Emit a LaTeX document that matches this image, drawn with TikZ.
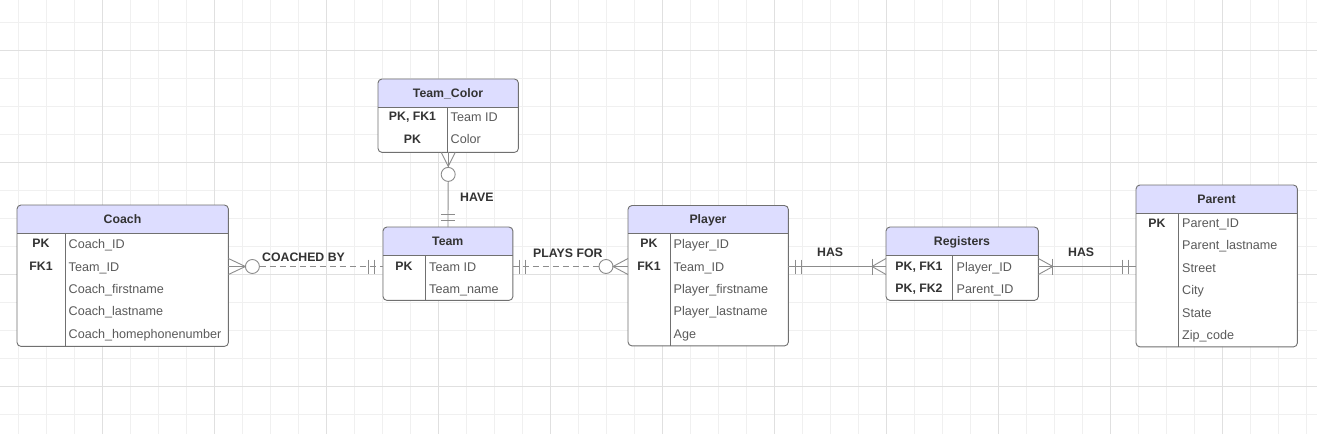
\documentclass[tikz,border=0pt]{standalone}
\usepackage{fontspec}
\setmainfont{Liberation Sans}
\usepackage{tikz}
\usetikzlibrary{calc}

\definecolor{hdrfill}{RGB}{221,221,255}
\definecolor{boxgray}{RGB}{112,112,112}
\definecolor{relgray}{RGB}{140,140,140}
\definecolor{darktext}{RGB}{51,51,51}
\definecolor{fldgray}{RGB}{90,90,90}
\definecolor{minorgrid}{RGB}{240,240,240}
\definecolor{majorgrid}{RGB}{224,224,224}

\tikzset{
  entity/.style={rectangle, rounded corners=4pt, fill=white, inner sep=0pt, anchor=north west},
  boxline/.style={draw=boxgray, line width=0.9pt, rounded corners=4pt},
  divline/.style={draw=boxgray, line width=0.9pt},
  hdrtext/.style={font=\fontsize{12.3}{14}\selectfont\bfseries, text=darktext, inner sep=0pt, text height=8.8pt, text depth=0pt},
  keytext/.style={font=\fontsize{12.3}{14}\selectfont\bfseries, text=darktext, inner sep=0pt, text height=8.8pt, text depth=0pt},
  fldtext/.style={font=\fontsize{12.6}{14}\selectfont, text=fldgray, inner sep=0pt, anchor=west, text height=9pt, text depth=0pt},
  lbl/.style={font=\fontsize{12.3}{14}\selectfont\bfseries, text=darktext, inner sep=0pt, anchor=west, text height=8.8pt, text depth=0pt},
  rel/.style={draw=relgray, line width=0.9pt},
  reldash/.style={rel, dash pattern=on 6pt off 4pt},
  circ/.style={circle, draw=relgray, line width=0.9pt, fill=white, minimum size=14pt, inner sep=0pt}
}

\begin{document}
\begin{tikzpicture}[x=1pt, y=-1pt]
    \useasboundingbox[fill=white] (0,0) rectangle (1317,434);

    % grid
    \foreach \x in {18,46,...,1306} \draw[minorgrid, line width=0.8pt] (\x,0) -- (\x,434);
    \foreach \y in {22,50,...,414} \draw[minorgrid, line width=0.8pt] (0,\y) -- (1317,\y);
    \foreach \x in {102,214,...,1222} \draw[majorgrid, line width=0.8pt] (\x,0) -- (\x,434);
    \foreach \y in {50,162,...,386} \draw[majorgrid, line width=0.8pt] (0,\y) -- (1317,\y);

    % entities
    \node[entity, minimum width=211pt, minimum height=141pt] (coach) at (17,205) {};
    \node[entity, minimum width=140pt, minimum height=73pt] (tc) at (378,79) {};
    \node[entity, minimum width=129.5pt, minimum height=73pt] (team) at (383,227) {};
    \node[entity, minimum width=160pt, minimum height=140pt] (player) at (628,205.5) {};
    \node[entity, minimum width=152pt, minimum height=73pt] (reg) at (886,227) {};
    \node[entity, minimum width=161pt, minimum height=161.5pt] (parent) at (1136,185) {};

    \foreach \e in {coach,tc,team,player,reg,parent} {
        \begin{scope}
            \clip[rounded corners=4pt] (\e.south west) rectangle (\e.north east);
            \fill[hdrfill] (\e.north west) rectangle ($(\e.north east)+(0,28)$);
        \end{scope}
        \draw[divline] ($(\e.north west)+(0,28)$) -- ($(\e.north east)+(0,28)$);
        \draw[boxline] (\e.south west) rectangle (\e.north east);
    }

    % key / field dividers
    \draw[divline] (65,233) -- (65,346);
    \draw[divline] (447,107) -- (447,152);
    \draw[divline] (425.5,255) -- (425.5,300);
    \draw[divline] (670,233.5) -- (670,345.5);
    \draw[divline] (952.5,255) -- (952.5,300);
    \draw[divline] (1178.5,213) -- (1178.5,346.5);

    % Coach
    \node[hdrtext] (coach-t) at (122.5,219) {Coach};
    \node[keytext] (coach-k1) at (41,243.5) {PK};
    \node[keytext] (coach-k2) at (41,266.5) {FK1};
    \node[fldtext] (coach-f1) at (68.5,243.5) {Coach\_ID};
    \node[fldtext] (coach-f2) at (68.5,266.5) {Team\_ID};
    \node[fldtext] (coach-f3) at (68.5,288.5) {Coach\_firstname};
    \node[fldtext] (coach-f4) at (68.5,311) {Coach\_lastname};
    \node[fldtext] (coach-f5) at (68.5,333.5) {Coach\_homephonenumber};

    % Team_Color
    \node[hdrtext] (tc-t) at (448,93) {Team\_Color};
    \node[keytext] (tc-k1) at (412.5,116.5) {PK, FK1};
    \node[keytext] (tc-k2) at (412.5,139) {PK};
    \node[fldtext] (tc-f1) at (450.5,116.5) {Team ID};
    \node[fldtext] (tc-f2) at (450.5,139) {Color};

    % Team
    \node[hdrtext] (team-t) at (447.75,241) {Team};
    \node[keytext] (team-k1) at (404,266.5) {PK};
    \node[fldtext] (team-f1) at (429,266.5) {Team ID};
    \node[fldtext] (team-f2) at (429,288.5) {Team\_name};

    % Player
    \node[hdrtext] (player-t) at (708,219) {Player};
    \node[keytext] (player-k1) at (649,243.5) {PK};
    \node[keytext] (player-k2) at (649,266.5) {FK1};
    \node[fldtext] (player-f1) at (673.5,243.5) {Player\_ID};
    \node[fldtext] (player-f2) at (673.5,266.5) {Team\_ID};
    \node[fldtext] (player-f3) at (673.5,288.5) {Player\_firstname};
    \node[fldtext] (player-f4) at (673.5,311) {Player\_lastname};
    \node[fldtext] (player-f5) at (673.5,333.5) {Age};

    % Registers
    \node[hdrtext] (reg-t) at (962,241) {Registers};
    \node[keytext] (reg-k1) at (919,266.5) {PK, FK1};
    \node[keytext] (reg-k2) at (919,288.5) {PK, FK2};
    \node[fldtext] (reg-f1) at (956.5,266.5) {Player\_ID};
    \node[fldtext] (reg-f2) at (956.5,288.5) {Parent\_ID};

    % Parent
    \node[hdrtext] (parent-t) at (1216.5,199) {Parent};
    \node[keytext] (parent-k1) at (1157,223) {PK};
    \node[fldtext] (parent-f1) at (1182,223) {Parent\_ID};
    \node[fldtext] (parent-f2) at (1182,245) {Parent\_lastname};
    \node[fldtext] (parent-f3) at (1182,267.5) {Street};
    \node[fldtext] (parent-f4) at (1182,290) {City};
    \node[fldtext] (parent-f5) at (1182,312.5) {State};
    \node[fldtext] (parent-f6) at (1182,335) {Zip\_code};

    % relationship labels
    \node[lbl] (have-l) at (460,197) {HAVE};
    \node[lbl] (cb-l) at (262,257.5) {COACHED BY};
    \node[lbl] (pf-l) at (533,253) {PLAYS FOR};
    \node[lbl] (has1-l) at (817,252.5) {HAS};
    \node[lbl] (has2-l) at (1068,252) {HAS};

    %edges
    % Team_Color -- Team
    \node[circ] (have-o) at ($(tc.south)+(0,22)$) {};
    \draw[rel] ($(tc.south)+(-7,0)$) -- ($(tc.south)+(0,14)$) -- ($(tc.south)+(7,0)$);
    \draw[rel] (tc.south) -- (have-o.north);
    \draw[rel] (have-o.south) -- (team.north);
    \draw[rel] ($(team.north)+(-7,-13)$) -- ++(14,0);
    \draw[rel] ($(team.north)+(-7,-7)$) -- ++(14,0);

    % Coach -- Team
    \coordinate (cb-a) at (coach.east |- coach-f2);
    \coordinate (cb-b) at (team.west |- team-f1);
    \node[circ] (cb-o) at ($(cb-a)+(24,0)$) {};
    \draw[rel] ($(cb-a)+(0,-8)$) -- ($(cb-a)+(17,0)$) -- ($(cb-a)+(0,8)$);
    \draw[rel] (cb-a) -- (cb-o.west);
    \draw[reldash] (cb-o.east) -- (cb-b);
    \draw[rel] ($(cb-b)+(-15,-7)$) -- ++(0,14);
    \draw[rel] ($(cb-b)+(-9,-7)$) -- ++(0,14);

    % Team -- Player
    \coordinate (pf-a) at (team.east |- team-f1);
    \coordinate (pf-b) at (player.west |- player-f2);
    \node[circ] (pf-o) at ($(pf-b)+(-22,0)$) {};
    \draw[reldash] (pf-a) -- (pf-o.west);
    \draw[rel] ($(pf-a)+(6.5,-7)$) -- ++(0,14);
    \draw[rel] ($(pf-a)+(12.5,-7)$) -- ++(0,14);
    \draw[rel] ($(pf-b)+(0,-8)$) -- ($(pf-b)+(-15,0)$) -- ($(pf-b)+(0,8)$);
    \draw[rel] (pf-o.east) -- (pf-b);

    % Player -- Registers
    \coordinate (h1-a) at (player.east |- player-f2);
    \coordinate (h1-b) at (reg.west |- reg-f1);
    \draw[rel] (h1-a) -- (h1-b);
    \draw[rel] ($(h1-a)+(7,-7)$) -- ++(0,14);
    \draw[rel] ($(h1-a)+(13,-7)$) -- ++(0,14);
    \draw[rel] ($(h1-b)+(0,-8)$) -- ($(h1-b)+(-14,0)$) -- ($(h1-b)+(0,8)$);
    \draw[rel] ($(h1-b)+(-14,-8)$) -- ++(0,16);

    % Registers -- Parent
    \coordinate (h2-a) at (reg.east |- reg-f1);
    \coordinate (h2-b) at (parent.west |- reg-f1);
    \draw[rel] (h2-a) -- (h2-b);
    \draw[rel] ($(h2-a)+(0,-8)$) -- ($(h2-a)+(14.5,0)$) -- ($(h2-a)+(0,8)$);
    \draw[rel] ($(h2-a)+(14.5,-8)$) -- ++(0,16);
    \draw[rel] ($(h2-b)+(-13.5,-7)$) -- ++(0,14);
    \draw[rel] ($(h2-b)+(-7.5,-7)$) -- ++(0,14);
\end{tikzpicture}
\end{document}
